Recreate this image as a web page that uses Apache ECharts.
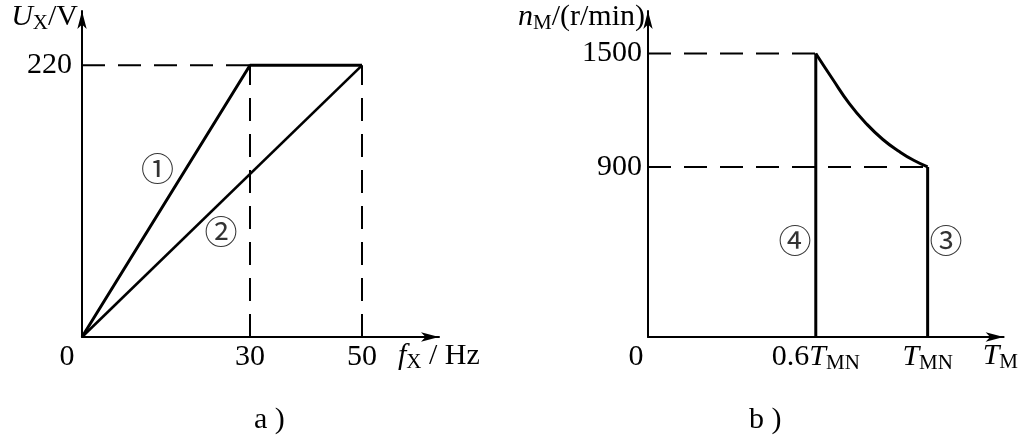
<!DOCTYPE html>
<html>
<head>
<meta charset="utf-8">
<script src="https://cdn.jsdelivr.net/npm/echarts@6/dist/echarts.min.js"></script>
<style>html,body{margin:0;padding:0;background:#fff;}#c{width:1021px;height:437px;}</style>
</head>
<body>
<div id="c"></div>
<script>
// ---- data: panel a) U_X vs f_X ----
const fTicks = [0, 30, 50];
const uTicks = [220];
const line1F = [0, 30, 50];
const line1U = [0, 220, 220];
const line2F = [0, 50];
const line2U = [0, 220];
const labelsA = ['①', '②'];
const labelsAF = [13.5, 24.8];
const labelsAU = [133, 82];
// ---- data: panel b) n_M vs T_M (T in units of T_MN) ----
const tTicks = [0, 0.6, 1];
const nTicks = [900, 1500];
const curveT = [0.6, 0.66, 0.72, 0.78, 0.84, 0.9, 0.95, 1.0];
const curveN = [1500, 1365, 1235, 1130, 1045, 980, 935, 900];
const line4T = [0.6, 0.6];
const line4N = [0, 1500];
const line3T = [1, 1];
const line3N = [900, 0];
const labelsB = ['④', '③'];
const labelsBT = [0.526, 1.066];
const labelsBN = [489, 489];

const SERIF = 'Liberation Serif';
const FS = 30;
const zip = (a, b) => a.map((v, i) => [v, b[i]]);
const rich = {
  it: {fontFamily: SERIF, fontStyle: 'italic', fontSize: FS, color: '#000', lineHeight: 34},
  n: {fontFamily: SERIF, fontSize: FS, color: '#000', lineHeight: 34},
  sub: {fontFamily: SERIF, fontSize: 21, color: '#000', lineHeight: 21, verticalAlign: 'bottom'},
  zeroA: {fontFamily: SERIF, fontSize: FS, color: '#000', lineHeight: 34, padding: [0, 30, 0, 0]},
  zeroB: {fontFamily: SERIF, fontSize: FS, color: '#000', lineHeight: 34, padding: [0, 24, 0, 0]}
};
const axisLine = {show: true, lineStyle: {color: '#000', width: 2}, symbol: ['none', 'arrow'], symbolSize: [7, 18]};
const dash = {color: '#000', width: 2, type: [23, 13]};
const solid = w => ({color: '#000', width: w});
function seg(data, xi, ls, smooth) {
  return {type: 'line', xAxisIndex: xi, yAxisIndex: xi, data: data, symbol: 'none', silent: true,
    lineStyle: ls, smooth: smooth || false, animation: false, z: 3};
}
function ann(xi, xs, ys, txt) {
  return {type: 'scatter', xAxisIndex: xi, yAxisIndex: xi, symbolSize: 0, silent: true, animation: false,
    data: xs.map((x, i) => ({value: [x, ys[i]], name: txt[i]})),
    label: {show: true, position: 'inside', formatter: p => p.name, color: '#000', fontSize: 33,
      fontFamily: 'DejaVu Serif, Noto Sans CJK SC'}};
}

const chart = echarts.init(document.getElementById('c'), null, {renderer: 'canvas'});
chart.setOption({
  backgroundColor: '#fff',
  animation: false,
  title: [
    {text: 'a )', left: 249, top: 400, textStyle: {fontFamily: SERIF, fontSize: FS, fontWeight: 'normal', color: '#000'}},
    {text: 'b )', left: 744, top: 400, textStyle: {fontFamily: SERIF, fontSize: FS, fontWeight: 'normal', color: '#000'}}
  ],
  grid: [
    {left: 82, top: 11, width: 357, height: 326},
    {left: 648, top: 11, width: 358, height: 326}
  ],
  xAxis: [
    {gridIndex: 0, type: 'value', min: 0, max: 63.75, splitLine: {show: false}, axisTick: {show: false},
     axisLine: axisLine,
     axisLabel: {customValues: fTicks, margin: 3, showMaxLabel: true, showMinLabel: true,
       formatter: v => v === 0 ? '{zeroA|0}' : '{n|' + v + '}', rich: rich},
     name: '{it|f}{sub|X}{n| / Hz}', nameLocation: 'end', nameGap: -41,
     nameTextStyle: {align: 'left', verticalAlign: 'top', padding: [2, 0, 0, 0], rich: rich}},
    {gridIndex: 1, type: 'value', min: 0, max: 1.2718, splitLine: {show: false}, axisTick: {show: false},
     axisLine: axisLine,
     axisLabel: {customValues: tTicks, margin: 3, showMaxLabel: true, showMinLabel: true,
       formatter: v => v === 0 ? '{zeroB|0}' : (v === 1 ? '{it|T}{sub|MN}' : '{n|' + v + '}{it|T}{sub|MN}'), rich: rich},
     name: '{it|T}{sub|M}', nameLocation: 'end', nameGap: -21,
     nameTextStyle: {align: 'left', verticalAlign: 'top', padding: [2, 0, 0, 0], rich: rich}}
  ],
  yAxis: [
    {gridIndex: 0, type: 'value', min: 0, max: 264, splitLine: {show: false}, axisTick: {show: false},
     axisLine: axisLine,
     axisLabel: {customValues: uTicks, margin: 10, formatter: v => '{n|' + v + '}', rich: rich},
     name: '{it|U}{sub|X}{n|/V}', nameLocation: 'end', nameGap: -6,
     nameTextStyle: {align: 'right', verticalAlign: 'middle', padding: [0, 4, 0, 0], rich: rich}},
    {gridIndex: 1, type: 'value', min: 0, max: 1725, splitLine: {show: false}, axisTick: {show: false},
     axisLine: axisLine,
     axisLabel: {customValues: nTicks, margin: 6, formatter: v => '{n|' + v + '}', rich: rich},
     name: '{it|n}{sub|M}{n|/(r/min)}', nameLocation: 'end', nameGap: -6,
     nameTextStyle: {align: 'right', verticalAlign: 'middle', padding: [0, 3, 0, 0], rich: rich}}
  ],
  series: [
    seg([[0, uTicks[0]], [fTicks[1], uTicks[0]]], 0, dash),
    seg([[fTicks[1], 0], [fTicks[1], uTicks[0]]], 0, dash),
    seg([[fTicks[2], 0], [fTicks[2], uTicks[0]]], 0, dash),
    seg(zip(line1F, line1U), 0, solid(3)),
    seg(zip(line2F, line2U), 0, solid(2.6)),
    ann(0, labelsAF, labelsAU, labelsA),
    seg([[0, nTicks[1]], [tTicks[1], nTicks[1]]], 1, dash),
    seg([[0, nTicks[0]], [tTicks[2], nTicks[0]]], 1, dash),
    seg(zip(line4T, line4N), 1, solid(3)),
    seg(zip(curveT, curveN), 1, solid(3), true),
    seg(zip(line3T, line3N), 1, solid(3)),
    ann(1, labelsBT, labelsBN, labelsB)
  ]
});
</script>
</body>
</html>
